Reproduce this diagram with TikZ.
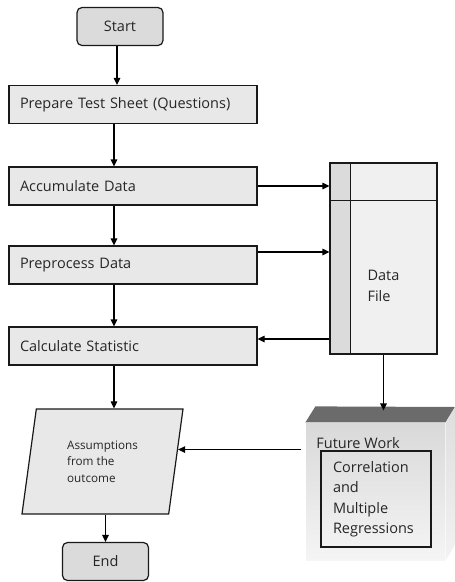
\documentclass[tikz,border=0pt]{standalone}
\usepackage{fontspec}
\setmainfont{Open Sans}
\usetikzlibrary{arrows.meta}
\usetikzlibrary{shapes.geometric}
\usetikzlibrary{positioning}
\tikzset{>={Triangle[length=7pt,width=6.5pt]}}
\tikzset{
box/.style = {draw=black!90, fill=black!9, minimum height=38pt},
proc/.style = {box, text width=226pt, inner xsep=11pt, align=left},
term/.style = {box, rounded corners=5pt, minimum width=86pt, fill=black!14},
}

\begin{document}
\begin{tikzpicture}[x=1pt, y=-1pt, line width=1.2pt, text=black!85,
                    font=\fontsize{14.5}{20.5}\selectfont]
			\useasboundingbox (0,0) rectangle (455,582);
			% left column
			\node [term] (start) at (120,26.5) {Start};
			\node [proc] (prep) at (133,104.5) {Prepare Test Sheet (Questions)};
			\node [proc] (acc) at (133,186) {Accumulate Data};
			\node [proc] (pre) at (133,265) {Preprocess Data};
			\node [proc] (calc) at (133,346) {Calculate Statistic};
			\node [trapezium, trapezium left angle=73.5, trapezium right angle=106.5,
			       trapezium stretches body, draw=black!90, fill=black!9,
			       minimum width=161pt, minimum height=105pt, align=left,
			       font=\fontsize{11.7}{16.5}\selectfont] (assume) at (102.5,461.5)
			       {Assumptions\\from the\\outcome};
			\node [term] (stop) at (105.5,561.5) {End};
			% data file
			\node [draw=black!90, fill=black!6, minimum width=107pt, minimum height=191pt,
			       path picture={\fill [black!14] (path picture bounding box.north west)
			       rectangle ([xshift=21pt]path picture bounding box.south west);}]
			       (file) at (383.5,258.5) {};
			\draw [black!90] ([xshift=21pt]file.north west) to ([xshift=21pt]file.south west);
			\draw [black!90] ([yshift=-38pt]file.north west) to ([yshift=-38pt]file.north east);
			\node [align=left] (filetxt) at (383.5,286) {Data\\File};
			% future work block
			\node [minimum width=139pt, minimum height=137pt, inner sep=0pt,
			       top color=black!15, bottom color=black!4] (future) at (375.5,491.5) {};
			\fill [black!58] (future.north west) -- ++(10,-16) -- (455,407)
			      -- (future.north east) -- cycle;
			\shade [top color=black!13, bottom color=black!5] (future.north east)
			      -- (455,407) -- (455,545) -- (future.south east) -- cycle;
			\node [anchor=west] (futlabel) at (312.5,443) {Future Work};
			\node [draw=black!90, minimum width=110pt, minimum height=96pt,
			       text width=86pt, inner xsep=12pt, align=left] (regr) at (376,499)
			       {Correlation\\and\\Multiple\\Regressions};
			% connectors
			\coordinate (col) at (114,0);
			\coordinate (prein) at ([yshift=13pt]pre.east);
			\coordinate (calcin) at ([yshift=7pt]calc.east);
			\coordinate (cubetop) at ([yshift=12pt]future.north);
			\draw [->] ([xshift=-3pt]start.south) to ([xshift=-3pt]start.south |- prep.north);
			\draw [->] (prep.south -| col) to (acc.north -| col);
			\draw [->] (acc.south -| col) to (pre.north -| col);
			\draw [->] (pre.south -| col) to (calc.north -| col);
			\draw [->] (calc.south -| col) to (assume.north -| col);
			\draw [->] (stop.north |- assume.south) to (stop.north);
			\draw [->] (acc.east) to (file.west |- acc.east);
			\draw [->] (prein) to (file.west |- prein);
			\draw [->] (file.west |- calcin) to (calcin);
			\draw [->] (file.south) to (file.south |- cubetop);
			\draw [->] ([xshift=-4pt]future.west |- assume.9) to (assume.9);
		\end{tikzpicture}
\end{document}
